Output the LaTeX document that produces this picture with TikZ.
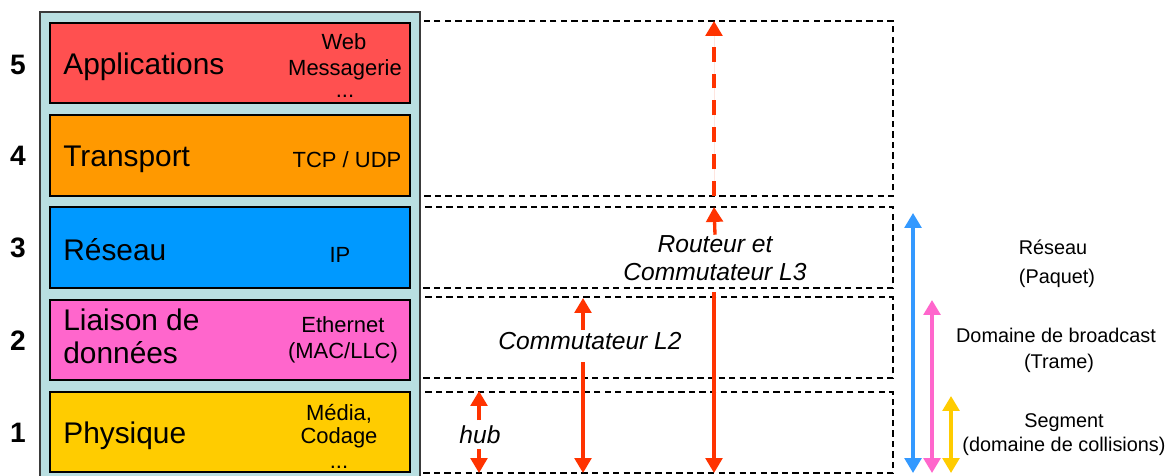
\documentclass[tikz,border=0pt]{standalone}
\usepackage{fontspec}
\setmainfont{Liberation Sans}
\usetikzlibrary{arrows.meta}
\definecolor{stackbg}{HTML}{B9DFE1}
\definecolor{stackedge}{HTML}{3A3A3A}
\definecolor{appred}{HTML}{FF5050}
\definecolor{transorange}{HTML}{FF9900}
\definecolor{netblue}{HTML}{0099FF}
\definecolor{linkpink}{HTML}{FF66CC}
\definecolor{phyyellow}{HTML}{FFCC00}
\definecolor{devred}{HTML}{FF3300}
\definecolor{scopeblue}{HTML}{3399FF}
\tikzset{
  layerbox/.style={draw=black, line width=1pt},
  stackframe/.style={draw=stackedge, fill=stackbg, line width=1.2pt},
  levelbox/.style={draw=black, line width=0.9pt, dash pattern=on 3.6pt off 2.4pt},
  num/.style={anchor=base, inner sep=0pt, font=\fontsize{16}{19}\selectfont\bfseries},
  biglabel/.style={anchor=base west, inner sep=0pt, font=\fontsize{17}{20}\selectfont},
  proto/.style={anchor=base, inner sep=0pt, font=\fontsize{12.5}{15}\selectfont},
  device/.style={anchor=base, inner sep=0pt, font=\fontsize{14}{17}\selectfont\itshape},
  scopetext/.style={anchor=base, inner sep=0pt, font=\fontsize{11.3}{14}\selectfont},
  devarrow/.style={draw=devred, fill=devred, line width=1.9pt, -{Triangle[width=9.5pt,length=8.5pt]}},
  scopearrow/.style={line width=2pt, {Triangle[width=9.5pt,length=8.5pt]}-{Triangle[width=9.5pt,length=8.5pt]}}
}
\begin{document}
\begin{tikzpicture}[x=0.02cm,y=-0.02cm]
\useasboundingbox (0,0) rectangle (1172,476);
\fill[white] (0,0) rectangle (1172,476);

% level frames (their left sides sit under the stack border)
\draw[levelbox] (420,21)  rectangle (893,196);
\draw[levelbox] (420,207) rectangle (893,288);
\draw[levelbox] (420,297) rectangle (893,378);
\draw[levelbox] (420,392) rectangle (893,473);

% protocol stack
\draw[stackframe] (40,12) rectangle (420,500);
\draw[layerbox, fill=appred]      (50,23)  rectangle (410,103);
\draw[layerbox, fill=transorange] (50,115) rectangle (410,196);
\draw[layerbox, fill=netblue]     (50,207) rectangle (410,288);
\draw[layerbox, fill=linkpink]    (50,300) rectangle (410,380);
\draw[layerbox, fill=phyyellow]   (50,392) rectangle (410,472);

% layer numbers
\node[num] (n5) at (18,75)  {5};
\node[num] (n4) at (18,166) {4};
\node[num] (n3) at (18,257) {3};
\node[num] (n2) at (18,350) {2};
\node[num] (n1) at (18,442) {1};

% layer names
\node[biglabel] (app)   at (63,75)  {Applications};
\node[biglabel] (trans) at (63,167) {Transport};
\node[biglabel] (net)   at (63,260) {Réseau};
\node[biglabel] (link1) at (63,330) {Liaison de};
\node[biglabel] (link2) at (63,363) {données};
\node[biglabel] (phy)   at (63,443) {Physique};

% protocols
\node[proto] (web)  at (344,50)  {Web};
\node[proto] (mess) at (345,76)  {Messagerie};
\node[proto] (dots5) at (345,98) {...};
\node[proto] (tcp)  at (347,168) {TCP / UDP};
\node[proto] (ip)   at (340,262) {IP};
\node[proto] (eth)  at (343,332) {Ethernet};
\node[proto] (mac)  at (343,358) {(MAC/LLC)};
\node[proto] (media) at (339,420) {Média,};
\node[proto] (cod)  at (339,443) {Codage};
\node[proto] (dots1) at (339,468) {...};

% devices
\node[device] (rt1) at (715,252) {Routeur et};
\node[device] (rt2) at (715,280) {Commutateur L3};
\node[device] (sw2) at (590,349) {Commutateur L2};
\node[device] (hub) at (480,443) {hub};

\coordinate (rtTop)  at (714,207);
\coordinate (rtLow)  at (714,292);
\coordinate (rtBot)  at (714,473);
\coordinate (apBase) at (714,196);
\coordinate (apTop)  at (714,21);
\coordinate (swUp)   at (583,330);
\coordinate (swTop)  at (583,298);
\coordinate (swLow)  at (583,362);
\coordinate (swBot)  at (583,473);
\coordinate (hbUp)   at (479,420);
\coordinate (hbTop)  at (479,391);
\coordinate (hbLow)  at (479,449);
\coordinate (hbBot)  at (479,473);

\draw[devarrow] (rt1.north) -- (rtTop);
\draw[devarrow] (rtLow) -- (rtBot);
\draw[devarrow, dash pattern=on 8.5pt off 6.8pt] (apBase) -- (apTop);
\draw[devarrow] (swUp) -- (swTop);
\draw[devarrow] (swLow) -- (swBot);
\draw[devarrow] (hbUp) -- (hbTop);
\draw[devarrow] (hbLow) -- (hbBot);

% scopes
\coordinate (bTop) at (913,213);
\coordinate (bBot) at (913,473);
\coordinate (pTop) at (932,300);
\coordinate (pBot) at (932,473);
\coordinate (yTop) at (951,396);
\coordinate (yBot) at (951,473);
\draw[scopearrow, draw=scopeblue, fill=scopeblue] (bTop) -- (bBot);
\draw[scopearrow, draw=linkpink, fill=linkpink] (pTop) -- (pBot);
\draw[scopearrow, draw=phyyellow, fill=phyyellow] (yTop) -- (yBot);

\node[scopetext] (s3a) at (1053,255) {Réseau};
\node[scopetext] (s3b) at (1057,283) {(Paquet)};
\node[scopetext] (s2a) at (1056,342) {Domaine de broadcast};
\node[scopetext] (s2b) at (1059,368) {(Trame)};
\node[scopetext] (s1a) at (1064,427) {Segment};
\node[scopetext] (s1b) at (1064,451) {(domaine de collisions)};
\end{tikzpicture}
\end{document}
